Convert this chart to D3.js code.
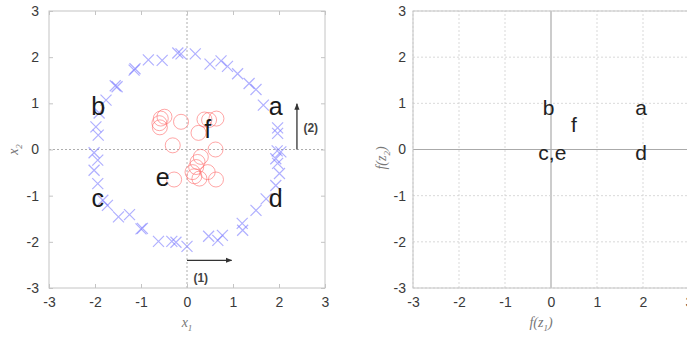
<!DOCTYPE html>
<html>
<head>
<meta charset="utf-8">
<script src="https://cdn.jsdelivr.net/npm/d3@7"></script>
<style>
  body { margin: 0; background: #fff; }
  text { font-family: "Liberation Sans", Arial, sans-serif; }
</style>
</head>
<body>
<script>
// crosses (outer ring)
let crossX = [-1.98, -1.93, -2.02, -1.94, -2.02, -1.94, -1.91, -1.76, -1.56, -1.52, -1.15, -1.13, -0.84, -0.54, -0.20, -0.13, 0.18,
  0.50, 0.74, 0.88, 1.10, 1.35, 1.50, 1.66, 1.97, 1.97, 1.96, 2.04, 1.93, 2.01, 1.97, 1.93,
  -1.83, -1.73, -1.49, -1.25, -1.00, -0.97, -0.62, -0.33, -0.24, 0.00, 0.47, 0.67, 0.77, 1.20, 1.21, 1.50, 1.72];
let crossY = [0.49, 0.31, -0.07, -0.23, -0.45, -0.74, 0.79, 1.07, 1.38, 1.36, 1.72, 1.75, 1.94, 1.93, 2.09, 2.07, 2.07,
  1.85, 1.92, 1.80, 1.64, 1.43, 1.30, 0.96, 0.47, 0.35, -0.03, -0.05, -0.20, -0.52, -0.30, -0.78,
  -1.10, -1.21, -1.46, -1.41, -1.72, -1.71, -1.99, -1.99, -2.01, -2.10, -1.88, -1.97, -1.86, -1.60, -1.75, -1.32, -1.07];

// circles (inner cluster)
let circX = [-0.57, -0.60, -0.59, -0.49, -0.13, 0.38, 0.48, 0.64, 0.25, -0.31, 0.62, 0.30, 0.23, 0.20, 0.12, 0.16, 0.27, 0.45, 0.63, -0.28];
let circY = [0.67, 0.57, 0.48, 0.71, 0.60, 0.65, 0.64, 0.67, 0.36, 0.09, 0.00, -0.16, -0.27, -0.38, -0.49, -0.58, -0.63, -0.49, -0.65, -0.65];

// point labels, left panel (x1, x2) and right panel (f(z1), f(z2))
let leftNames = ["a", "b", "c", "d", "e", "f"];
let leftX = [1.93, -1.93, -1.94, 1.93, -0.53, 0.45];
let leftY = [0.74, 0.74, -1.25, -1.25, -0.78, 0.24];
let rightNames = ["b", "a", "f", "c,e", "d"];
let rightX = [-0.05, 1.96, 0.50, 0.03, 1.96];
let rightY = [0.74, 0.74, 0.38, -0.23, -0.23];

let ticks = [-3, -2, -1, 0, 1, 2, 3];

let svg = d3.select("body").append("svg")
  .attr("width", 687)
  .attr("height", 337);

let y = d3.scaleLinear().domain([-3, 3]).range([288, 11]);
let xL = d3.scaleLinear().domain([-3, 3]).range([49, 325]);
let xR = d3.scaleLinear().domain([-3, 3]).range([413, 689]);

let frame = "#c4c4c4", tickText = "#3a3a3a";
let fmt = d => String(d);

function styleAxis(g) {
  g.select(".domain").remove();
  g.selectAll(".tick line").attr("stroke", frame);
  g.selectAll(".tick text").attr("fill", tickText).style("font-size", "14px");
}

// ---------- left panel ----------
let left = svg.append("g");

left.append("line")
  .attr("x1", xL(-3)).attr("x2", xL(3)).attr("y1", y(0)).attr("y2", y(0))
  .attr("stroke", "#999").attr("stroke-dasharray", "2,2").attr("stroke-width", 0.8);
left.append("line")
  .attr("x1", xL(0)).attr("x2", xL(0)).attr("y1", y(-3)).attr("y2", y(3))
  .attr("stroke", "#999").attr("stroke-dasharray", "2,2").attr("stroke-width", 0.8);

left.append("g").attr("transform", "translate(0," + y(-3) + ")")
  .call(d3.axisBottom(xL).tickValues(ticks).tickFormat(fmt).tickSize(-4).tickPadding(9)).call(styleAxis);
left.append("g").attr("transform", "translate(0," + y(3) + ")")
  .call(d3.axisTop(xL).tickValues(ticks).tickSize(-4).tickFormat("")).call(styleAxis);
left.append("g").attr("transform", "translate(" + xL(-3) + ",0)")
  .call(d3.axisLeft(y).tickValues(ticks).tickFormat(fmt).tickSize(-4).tickPadding(10)).call(styleAxis);
left.append("g").attr("transform", "translate(" + xL(3) + ",0)")
  .call(d3.axisRight(y).tickValues(ticks).tickSize(-4).tickFormat("")).call(styleAxis);

left.append("rect")
  .attr("x", xL(-3)).attr("y", y(3))
  .attr("width", xL(3) - xL(-3)).attr("height", y(-3) - y(3))
  .attr("fill", "none").attr("stroke", frame);

// crosses
let cs = 5.5;
left.append("g").selectAll("path")
  .data(d3.range(crossX.length))
  .join("path")
  .attr("d", i => {
    let px = xL(crossX[i]), py = y(crossY[i]);
    return "M" + (px - cs) + "," + (py - cs) + "L" + (px + cs) + "," + (py + cs) +
      "M" + (px - cs) + "," + (py + cs) + "L" + (px + cs) + "," + (py - cs);
  })
  .attr("stroke", "#7b7bff").attr("stroke-opacity", 0.6).attr("stroke-width", 1.2).attr("fill", "none");

// circles
left.append("g").selectAll("circle")
  .data(d3.range(circX.length))
  .join("circle")
  .attr("cx", i => xL(circX[i]))
  .attr("cy", i => y(circY[i]))
  .attr("r", 7.5)
  .attr("fill", "none").attr("stroke", "#ff6b6b").attr("stroke-opacity", 0.6).attr("stroke-width", 1);

left.append("g").selectAll("text")
  .data(leftNames)
  .join("text")
  .attr("x", (d, i) => xL(leftX[i]))
  .attr("y", (d, i) => y(leftY[i]))
  .attr("text-anchor", "middle")
  .attr("fill", "#1a1a1a")
  .style("font-size", "25px")
  .text(d => d);

// arrows (1) and (2)
svg.append("defs").append("marker")
  .attr("id", "head").attr("viewBox", "0 0 10 10")
  .attr("refX", 9).attr("refY", 5)
  .attr("markerWidth", 5).attr("markerHeight", 5)
  .attr("orient", "auto")
  .append("path").attr("d", "M0,1L10,5L0,9Z").attr("fill", "#333");

left.append("line")
  .attr("x1", xL(0)).attr("x2", xL(0.97)).attr("y1", y(-2.4)).attr("y2", y(-2.4))
  .attr("stroke", "#333").attr("stroke-width", 1.3).attr("marker-end", "url(#head)");
left.append("text")
  .attr("x", xL(0.3)).attr("y", y(-2.86))
  .attr("text-anchor", "middle").attr("fill", "#444")
  .style("font-size", "12px").style("font-weight", "bold")
  .text("(1)");

left.append("line")
  .attr("x1", xL(2.39)).attr("x2", xL(2.39)).attr("y1", y(0)).attr("y2", y(0.99))
  .attr("stroke", "#333").attr("stroke-width", 1.3).attr("marker-end", "url(#head)");
left.append("text")
  .attr("x", xL(2.69)).attr("y", y(0.38))
  .attr("text-anchor", "middle").attr("fill", "#444")
  .style("font-size", "12px").style("font-weight", "bold")
  .text("(2)");

// axis titles
let xt = left.append("text")
  .attr("x", xL(0)).attr("y", 327)
  .attr("text-anchor", "middle").attr("fill", "#777")
  .style("font-family", "'Liberation Serif', serif").style("font-style", "italic").style("font-size", "14px");
xt.append("tspan").text("x");
xt.append("tspan").attr("dy", 4).style("font-size", "9px").text("1");

let yt = left.append("text")
  .attr("transform", "translate(18," + y(0) + ") rotate(-90)")
  .attr("text-anchor", "middle").attr("fill", "#777")
  .style("font-family", "'Liberation Serif', serif").style("font-style", "italic").style("font-size", "14px");
yt.append("tspan").text("x");
yt.append("tspan").attr("dy", 4).style("font-size", "9px").text("2");

// ---------- right panel ----------
let right = svg.append("g");

right.append("g").selectAll("line.gx")
  .data(ticks)
  .join("line")
  .attr("x1", d => xR(d)).attr("x2", d => xR(d)).attr("y1", y(-3)).attr("y2", y(3))
  .attr("stroke", d => d === 0 ? "#aaa" : "#cfcfcf")
  .attr("stroke-width", d => d === 0 ? 1.2 : 0.8)
  .attr("stroke-dasharray", d => d === 0 ? null : "2,2");
right.append("g").selectAll("line.gy")
  .data(ticks)
  .join("line")
  .attr("x1", xR(-3)).attr("x2", xR(3)).attr("y1", d => y(d)).attr("y2", d => y(d))
  .attr("stroke", d => d === 0 ? "#aaa" : "#cfcfcf")
  .attr("stroke-width", d => d === 0 ? 1.2 : 0.8)
  .attr("stroke-dasharray", d => d === 0 ? null : "2,2");

right.append("g").attr("transform", "translate(0," + y(-3) + ")")
  .call(d3.axisBottom(xR).tickValues(ticks).tickFormat(fmt).tickSize(0).tickPadding(9)).call(styleAxis);
right.append("g").attr("transform", "translate(" + xR(-3) + ",0)")
  .call(d3.axisLeft(y).tickValues(ticks).tickFormat(fmt).tickSize(0).tickPadding(7)).call(styleAxis);

right.append("rect")
  .attr("x", xR(-3)).attr("y", y(3))
  .attr("width", xR(3) - xR(-3)).attr("height", y(-3) - y(3))
  .attr("fill", "none").attr("stroke", frame);

right.append("g").selectAll("text")
  .data(rightNames)
  .join("text")
  .attr("x", (d, i) => xR(rightX[i]))
  .attr("y", (d, i) => y(rightY[i]))
  .attr("text-anchor", "middle")
  .attr("fill", "#222")
  .style("font-size", "21px")
  .text(d => d);

let fx = right.append("text")
  .attr("x", 541).attr("y", 327)
  .attr("text-anchor", "middle").attr("fill", "#777")
  .style("font-family", "'Liberation Serif', serif").style("font-style", "italic").style("font-size", "14px");
fx.append("tspan").text("f(z");
fx.append("tspan").attr("dy", 4).style("font-size", "9px").text("1");
fx.append("tspan").attr("dy", -4).text(")");

let fy = right.append("text")
  .attr("transform", "translate(386,158) rotate(-90)")
  .attr("text-anchor", "middle").attr("fill", "#777")
  .style("font-family", "'Liberation Serif', serif").style("font-style", "italic").style("font-size", "14px");
fy.append("tspan").text("f(z");
fy.append("tspan").attr("dy", 4).style("font-size", "9px").text("2");
fy.append("tspan").attr("dy", -4).text(")");
</script>
</body>
</html>
